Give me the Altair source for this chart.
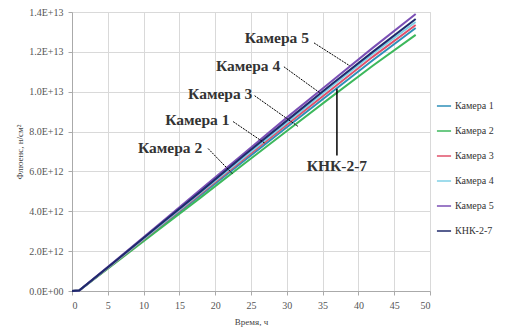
import altair as alt
import pandas as pd

time_h = [0, 1, 6, 12, 18, 24, 30, 36, 42, 48]
series_names = ["Камера 1", "Камера 2", "Камера 3", "Камера 4", "Камера 5", "КНК-2-7"]
cam1 = [0, 0.02e12, 1.43e12, 3.12e12, 4.82e12, 6.52e12, 8.22e12, 9.90e12, 11.58e12, 13.20e12]
cam2 = [0, 0.02e12, 1.39e12, 3.05e12, 4.70e12, 6.37e12, 8.03e12, 9.68e12, 11.30e12, 12.85e12]
cam3 = [0, 0.02e12, 1.45e12, 3.17e12, 4.90e12, 6.62e12, 8.35e12, 10.05e12, 11.75e12, 13.35e12]
cam4 = [0, 0.02e12, 1.46e12, 3.20e12, 4.95e12, 6.70e12, 8.45e12, 10.20e12, 11.90e12, 13.50e12]
cam5 = [0, 0.02e12, 1.50e12, 3.30e12, 5.10e12, 6.90e12, 8.70e12, 10.45e12, 12.20e12, 13.90e12]
knk = [0, 0.02e12, 1.48e12, 3.25e12, 5.00e12, 6.80e12, 8.55e12, 10.30e12, 12.00e12, 13.65e12]
colors = ["#2E8FB8", "#3DB85C", "#E0506A", "#7FD0E6", "#7B4FB5", "#1F2A6B"]

# annotation labels (data units)
ann_text = ["Камера 5", "Камера 4", "Камера 3", "Камера 1", "Камера 2", "КНК-2-7"]
ann_x = [28.6, 24.6, 20.7, 17.5, 13.7, 37.0]
ann_y = [12.7e12, 11.3e12, 9.9e12, 8.6e12, 7.2e12, 6.25e12]
lead_x1 = [33.8, 29.6, 25.5, 22.5, 19.0, 37.0]
lead_y1 = [12.45e12, 11.25e12, 9.8e12, 8.5e12, 7.15e12, 10.15e12]
lead_x2 = [38.8, 34.6, 31.6, 27.0, 22.5, 37.0]
lead_y2 = [11.3e12, 9.95e12, 8.25e12, 7.4e12, 5.85e12, 6.8e12]
lead_dash = [True, True, True, True, True, False]

x_ticks = [0, 5, 10, 15, 20, 25, 30, 35, 40, 45, 50]
y_ticks = [0, 2e12, 4e12, 6e12, 8e12, 10e12, 12e12, 14e12]

SERIF = "'Liberation Serif', 'Times New Roman', serif"

rows = []
for name, vals in zip(series_names, [cam1, cam2, cam3, cam4, cam5, knk]):
    for t, v in zip(time_h, vals):
        rows.append({"t": t, "v": v, "s": name})
df = pd.DataFrame(rows)

ann = pd.DataFrame({"text": ann_text, "x": ann_x, "y": ann_y,
                    "x1": lead_x1, "y1": lead_y1, "x2": lead_x2, "y2": lead_y2,
                    "dash": lead_dash})

xs = alt.Scale(domain=[0, 50], nice=False)
ys = alt.Scale(domain=[0, 1.4e13], nice=False)
xa = alt.Axis(values=x_ticks, labelOverlap=False, title="Время, ч", titlePadding=7)
ya = alt.Axis(values=y_ticks, labelOverlap=False, title="Флюенс, н/см²", titlePadding=4,
              labelExpr="datum.value == 0 ? '0.0E+00' : upper(format(datum.value, '.1e'))")

lines = alt.Chart(df).mark_line(strokeWidth=2).encode(
    x=alt.X("t:Q", scale=xs, axis=xa),
    y=alt.Y("v:Q", scale=ys, axis=ya),
    color=alt.Color("s:N", sort=series_names,
                    scale=alt.Scale(domain=series_names, range=colors),
                    legend=alt.Legend(title=None, orient="none", legendX=364, legendY=86,
                                      symbolType="stroke", symbolSize=200, symbolStrokeWidth=1.5,
                                      rowPadding=12, labelFontSize=10, labelFont=SERIF,
                                      labelOffset=3, labelColor="#333333")),
    order="s:N",
)

leaders_dash = alt.Chart(ann[ann["dash"]]).mark_rule(color="black", strokeWidth=1, strokeDash=[2, 1]).encode(
    x=alt.X("x1:Q", scale=xs, axis=xa), y=alt.Y("y1:Q", scale=ys, axis=ya), x2="x2:Q", y2="y2:Q")
leaders_solid = alt.Chart(ann[~ann["dash"]]).mark_rule(color="black", strokeWidth=1.5).encode(
    x=alt.X("x1:Q", scale=xs, axis=xa), y=alt.Y("y1:Q", scale=ys, axis=ya), x2="x2:Q", y2="y2:Q")
labels = alt.Chart(ann).mark_text(font=SERIF, fontSize=15.5, fontWeight="bold",
                                  color="#333333").encode(
    x=alt.X("x:Q", scale=xs, axis=xa), y=alt.Y("y:Q", scale=ys, axis=ya), text="text:N")

chart = alt.layer(lines, leaders_dash, leaders_solid, labels).properties(
    width=358, height=279,
    autosize=alt.AutoSizeParams(type="none"),
    padding={"left": 64, "top": 4, "right": 67, "bottom": 37},
).configure_axis(
    labelFont=SERIF, labelFontSize=10, labelColor="#555555", labelPadding=5,
    titleFont=SERIF, titleFontSize=9, titleFontWeight="normal", titleColor="#444444",
    gridColor="#d9d9d9", domainColor="#aaaaaa", tickColor="#aaaaaa", tickSize=4,
).configure_legend(
    labelFont=SERIF, labelFontSize=10
).configure_view(stroke="#d9d9d9")

chart.save("out.html", embed_options={"renderer": "svg", "actions": False})
